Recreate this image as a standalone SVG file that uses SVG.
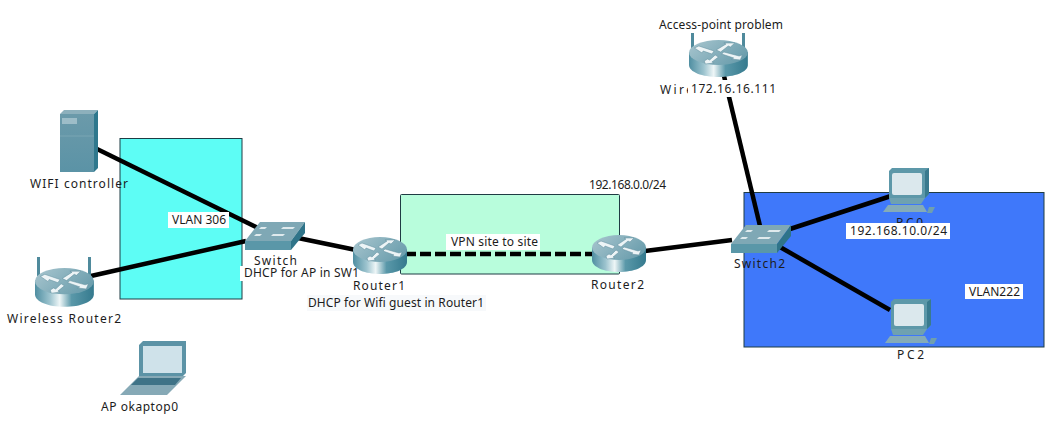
<svg xmlns="http://www.w3.org/2000/svg" xmlns:xlink="http://www.w3.org/1999/xlink" width="1063" height="427" viewBox="0 0 1063 427">
<style>
  text { font-family: "Noto Sans", "Open Sans", "Liberation Sans", sans-serif; font-size: 12px; fill: #1c1c1c; }
  .link { stroke: #000; stroke-width: 4.500; fill: none; }
  .vpn { stroke-dasharray: 11 4; }
  .zone { stroke: #1f3c44; stroke-width: 1; }
  .tag { fill: #fff; }
  .soft { fill: #f7f9fb; }
</style>
<defs>
  <linearGradient id="routerSide" x1="0" x2="1" y1="0" y2="0">
    <stop offset="0" stop-color="#4f8ea1"/>
    <stop offset="0.25" stop-color="#9cc3ce"/>
    <stop offset="0.42" stop-color="#eef6f7"/>
    <stop offset="0.62" stop-color="#5a98a9"/>
    <stop offset="1" stop-color="#357a8e"/>
  </linearGradient>
  <linearGradient id="routerTop" x1="0" x2="1" y1="0" y2="0.5">
    <stop offset="0" stop-color="#a9c6cf"/>
    <stop offset="1" stop-color="#6d9fae"/>
  </linearGradient>
  <linearGradient id="serverFace" x1="0" x2="0" y1="0" y2="1">
    <stop offset="0" stop-color="#6b9aaa"/>
    <stop offset="1" stop-color="#5b93a6"/>
  </linearGradient>
  <!-- Router drum, origin at the top-left of its 54x37 box -->
  <g id="router">
    <path d="M0 12 V25 C0 32 12 37 27 37 C42 37 54 32 54 25 V12 Z" fill="url(#routerSide)"/>
    <ellipse cx="27" cy="12.500" rx="27" ry="12.500" fill="url(#routerTop)"/>
    <g fill="#edf4f6" stroke="#5f8d9c" stroke-width="0.500">
      <path d="M5 8 L9 6 L23 11 L21 14 L13 11 L12 13 Z"/>
      <path d="M25 10 L34 4 L32 3 L42 3 L38 7 L36 6 L29 12 Z"/>
      <path d="M30 14 L32 12 L46 16 L49 15 L47 20 L39 19 L41 18 Z"/>
      <path d="M14 21 L17 19 L19 20 L24 15 L27 17 L21 22 L23 23 L15 24 Z"/>
    </g>
  </g>
  <!-- Flat workgroup switch, 60x29 -->
  <g id="switch">
    <path d="M0 20 L15 1 H60 L46 20 Z" fill="#7fa8b5"/>
    <path d="M0 20 H46 V29 H0 Z" fill="#5a97a8"/>
    <path d="M46 20 L60 1 V12 L46 29 Z" fill="#2f7489"/>
    <g fill="#dfeaed">
      <path d="M16 6 L22 6 L20 8 L14 8 Z"/>
      <path d="M38 6 L50 6 L48 8 L36 8 Z"/>
      <path d="M11 13 L17 13 L15 15 L9 15 Z"/>
      <path d="M28 13 L40 13 L38 15 L26 15 Z"/>
    </g>
  </g>
  <!-- Desktop PC, 52x45 -->
  <g id="pc">
    <path d="M6 3 L9 0 H46 V26 L42 30 H6 Z" fill="#5d98a9"/>
    <path d="M42 3 L46 0 V26 L42 30 Z" fill="#397a8e"/>
    <rect x="9" y="5" width="30" height="22" rx="2" fill="#dbe8ed"/>
    <path d="M6 30 H42 L38 36 H8 Z" fill="#6fa1b0"/>
    <path d="M5 37 H40 L44 44 H0 Z" fill="#84abb8"/>
    <path d="M46 39 H52 L49 45 H44 Z" fill="#6f9fae"/>
  </g>
</defs>

<g id="zones">
  <rect class="zone" x="120" y="138.500" width="122" height="160.500" fill="#5dfdf5"/>
  <rect class="zone" x="400.500" y="194.500" width="219" height="79.500" fill="#b8fddc" rx="1"/>
  <rect class="zone" x="744" y="192.500" width="300" height="154.500" fill="#3f78fa"/>
</g>

<g id="connectors">
  <line class="link" x1="97" y1="149" x2="258" y2="228"/>
  <line class="link" x1="91" y1="276" x2="246" y2="241"/>
  <line class="link" x1="298" y1="238" x2="356" y2="250"/>
  <line class="link vpn" x1="405" y1="254" x2="595" y2="254"/>
  <line class="link" x1="645" y1="251" x2="732" y2="240"/>
  <line class="link" x1="724" y1="76" x2="760" y2="226"/>
  <line class="link" x1="790" y1="229" x2="891" y2="196"/>
  <line class="link" x1="780" y1="247" x2="890" y2="310"/>
</g>

<g id="wifi-controller">
  <path d="M60 114 L64 110 H98 L94 114 Z" fill="#8db0bc"/>
  <path d="M94 114 L98 110 V168 L94 172 Z" fill="#2f788d"/>
  <rect x="60" y="114" width="34" height="58" fill="url(#serverFace)"/>
  <rect x="62" y="118" width="15" height="6" fill="#9dbdc8"/>
  <line x1="60" y1="136" x2="94" y2="136" stroke="#7ba5b3"/>
  <text x="30" y="188" textLength="98">WIFI controller</text>
</g>

<g id="wireless-router2">
  <rect x="37" y="257" width="3" height="19" fill="#4f8a9c"/>
  <rect x="88" y="257" width="3" height="19" fill="#4f8a9c"/>
  <use xlink:href="#router" href="#router" transform="translate(35 268) scale(1.090 1.050)"/>
  <text x="7" y="323" textLength="114">Wireless Router2</text>
</g>

<g id="ap-laptop">
  <path d="M139 345 L143 341 H186 V373 L182 377 H139 Z" fill="#5c93a6"/>
  <rect x="143" y="346" width="39" height="27" fill="#cfe2ea"/>
  <path d="M139 376 H186 L167 395 H120 Z" fill="#86a9b6"/>
  <path d="M138 378 H181 L175 385 H131 Z" fill="#3f7387"/>
  <text x="101" y="411" textLength="77">AP okaptop0</text>
</g>

<g id="switch1">
  <use xlink:href="#switch" href="#switch" transform="translate(245 221)"/>
  <text x="254" y="265" textLength="43">Switch</text>
  <rect class="tag" x="240" y="266" width="120" height="15"/>
  <text x="244" y="277" textLength="115">DHCP for AP in SW1</text>
</g>

<g id="router1">
  <use xlink:href="#router" href="#router" transform="translate(353 237)"/>
  <text x="353" y="290" textLength="52">Router1</text>
  <rect class="soft" x="307" y="295" width="179" height="16"/>
  <text x="308" y="307" textLength="176">DHCP for Wifi guest in Router1</text>
</g>

<g id="router2">
  <use xlink:href="#router" href="#router" transform="translate(592 235)"/>
  <text x="591" y="289" textLength="53">Router2</text>
</g>

<g id="access-point">
  <text x="659" y="29" textLength="124">Access-point problem</text>
  <rect x="691" y="33" width="3" height="18" fill="#4f8a9c"/>
  <rect x="742" y="33" width="3" height="18" fill="#4f8a9c"/>
  <use xlink:href="#router" href="#router" transform="translate(689 40) scale(1.090 1)"/>
  <text x="660" y="94" textLength="33">Wire</text>
  <rect class="tag" x="688" y="80" width="89" height="17"/>
  <text x="691" y="93" textLength="85">172.16.16.111</text>
</g>

<g id="switch2">
  <use xlink:href="#switch" href="#switch" transform="translate(731 224)"/>
  <text x="734" y="268" textLength="51">Switch2</text>
</g>

<g id="pc0">
  <use xlink:href="#pc" href="#pc" transform="translate(883 168)"/>
  <text x="896" y="227" textLength="27">PC0</text>
  <rect class="tag" x="846" y="223" width="104" height="16"/>
  <text x="850" y="235" textLength="97">192.168.10.0/24</text>
</g>

<g id="pc2">
  <use xlink:href="#pc" href="#pc" transform="translate(885 299)"/>
  <text x="897" y="359" textLength="27">PC2</text>
</g>

<g id="labels">
  <rect class="tag" x="168" y="212" width="61" height="16"/>
  <text x="172" y="224" textLength="54">VLAN 306</text>
  <rect class="tag" x="446" y="234" width="94" height="16"/>
  <text x="451" y="246" textLength="87">VPN site to site</text>
  <text x="589" y="189" textLength="77">192.168.0.0/24</text>
  <rect class="tag" x="965" y="284" width="58" height="15"/>
  <text x="969" y="296" textLength="51">VLAN222</text>
</g>
</svg>
